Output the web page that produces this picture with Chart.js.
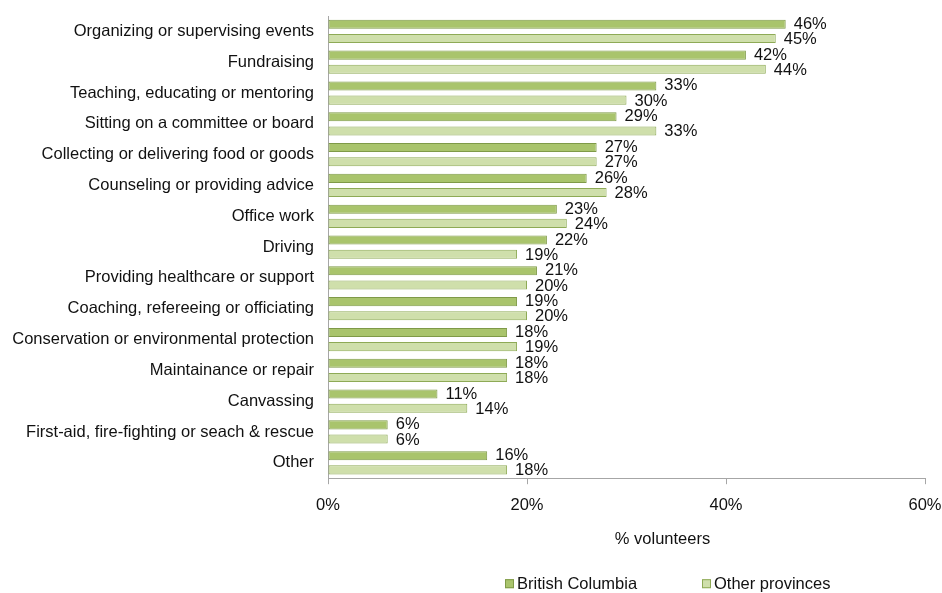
<!DOCTYPE html>
<html>
<head>
<meta charset="utf-8">
<script src="https://cdn.jsdelivr.net/npm/chart.js@4/dist/chart.umd.min.js"></script>
<style>
  html, body { margin: 0; padding: 0; background: #fff; }
  #wrap { width: 942px; height: 593px; position: relative; }
</style>
</head>
<body>
<div id="wrap"><canvas id="volChart"></canvas></div>
<script>
const activities = [
    'Organizing or supervising events',
    'Fundraising',
    'Teaching, educating or mentoring',
    'Sitting on a committee or board',
    'Collecting or delivering food or goods',
    'Counseling or providing advice',
    'Office work',
    'Driving',
    'Providing healthcare or support',
    'Coaching, refereeing or officiating',
    'Conservation or environmental protection',
    'Maintainance or repair',
    'Canvassing',
    'First-aid, fire-fighting or seach & rescue',
    'Other'
];
const britishColumbia = [46, 42, 33, 29, 27, 26, 23, 22, 21, 19, 18, 18, 11, 6, 16];
const otherProvinces = [45, 44, 30, 33, 27, 28, 24, 19, 20, 20, 19, 18, 14, 6, 18];
const xTicks = [0, 20, 40, 60];

const FONT = 'Liberation Sans, Arial, sans-serif';
const SIZE = 16.5;

// percentage labels at the end of each bar
const valueLabels = {
    id: 'valueLabels',
    afterDatasetsDraw(chart) {
        const ctx = chart.ctx;
        ctx.save();
        ctx.font = SIZE + 'px ' + FONT;
        ctx.fillStyle = '#111';
        ctx.textAlign = 'left';
        ctx.textBaseline = 'middle';
        chart.data.datasets.forEach((ds, i) => {
            chart.getDatasetMeta(i).data.forEach((bar, j) => {
                ctx.fillText(ds.data[j] + '%', bar.x + 8, bar.y + (i === 0 ? 0 : 1));
            });
        });
        ctx.restore();
    }
};

// axis title and legend drawn under the plot
const bottomText = {
    id: 'bottomText',
    afterDraw(chart) {
        const ctx = chart.ctx;
        const area = chart.chartArea;
        ctx.save();
        ctx.font = SIZE + 'px ' + FONT;
        ctx.fillStyle = '#111';
        ctx.textBaseline = 'middle';
        ctx.textAlign = 'center';
        ctx.fillText('% volunteers', (area.left + area.right) / 2 + 36, area.bottom + 61);

        ctx.textAlign = 'left';
        const y = area.bottom + 106;
        const starts = [505, 702];
        chart.data.datasets.forEach((ds, i) => {
            const x = starts[i];
            ctx.fillStyle = ds.backgroundColor;
            ctx.fillRect(x, y - 5, 9, 9);
            ctx.strokeStyle = ds.borderColor;
            ctx.lineWidth = 1;
            ctx.strokeRect(x + 0.5, y - 4.5, 8, 8);
            ctx.fillStyle = '#111';
            ctx.fillText(ds.label, x + 12, y);
        });
        ctx.restore();
    }
};

new Chart(document.getElementById('volChart'), {
    type: 'bar',
    data: {
        labels: activities,
        datasets: [{
            label: 'British Columbia',
            data: britishColumbia,
            backgroundColor: '#a9c46c',
            borderColor: '#7f9a48',
            borderWidth: 1,
            borderSkipped: false,
            categoryPercentage: 0.92,
            barPercentage: 0.64
        }, {
            label: 'Other provinces',
            data: otherProvinces,
            backgroundColor: '#cfdfab',
            borderColor: '#8eaa56',
            borderWidth: 1,
            borderSkipped: false,
            categoryPercentage: 0.92,
            barPercentage: 0.64
        }]
    },
    options: {
        indexAxis: 'y',
        responsive: true,
        maintainAspectRatio: false,
        animation: false,
        layout: { padding: { top: 16, right: 17, left: 0, bottom: 67 } },
        plugins: {
            tooltip: { enabled: false },
            legend: { display: false }
        },
        scales: {
            x: {
                min: 0,
                max: 60,
                afterBuildTicks(scale) {
                    scale.ticks = xTicks.map(v => ({ value: v }));
                },
                afterFit(scale) {
                    scale.paddingLeft = 0;
                    scale.paddingRight = 0;
                },
                ticks: {
                    callback: v => v + '%',
                    font: { family: FONT, size: SIZE },
                    color: '#111',
                    padding: 11
                },
                grid: { drawOnChartArea: false, tickLength: 6, color: '#a6a6a6' },
                border: { color: '#a6a6a6' }
            },
            y: {
                afterFit(scale) {
                    scale.width = 328;
                    scale.paddingTop = 0;
                    scale.paddingBottom = 0;
                },
                ticks: {
                    font: { family: FONT, size: SIZE },
                    color: '#111',
                    padding: 6
                },
                grid: { display: false },
                border: { color: '#a6a6a6' }
            }
        }
    },
    plugins: [valueLabels, bottomText]
});
</script>
</body>
</html>
